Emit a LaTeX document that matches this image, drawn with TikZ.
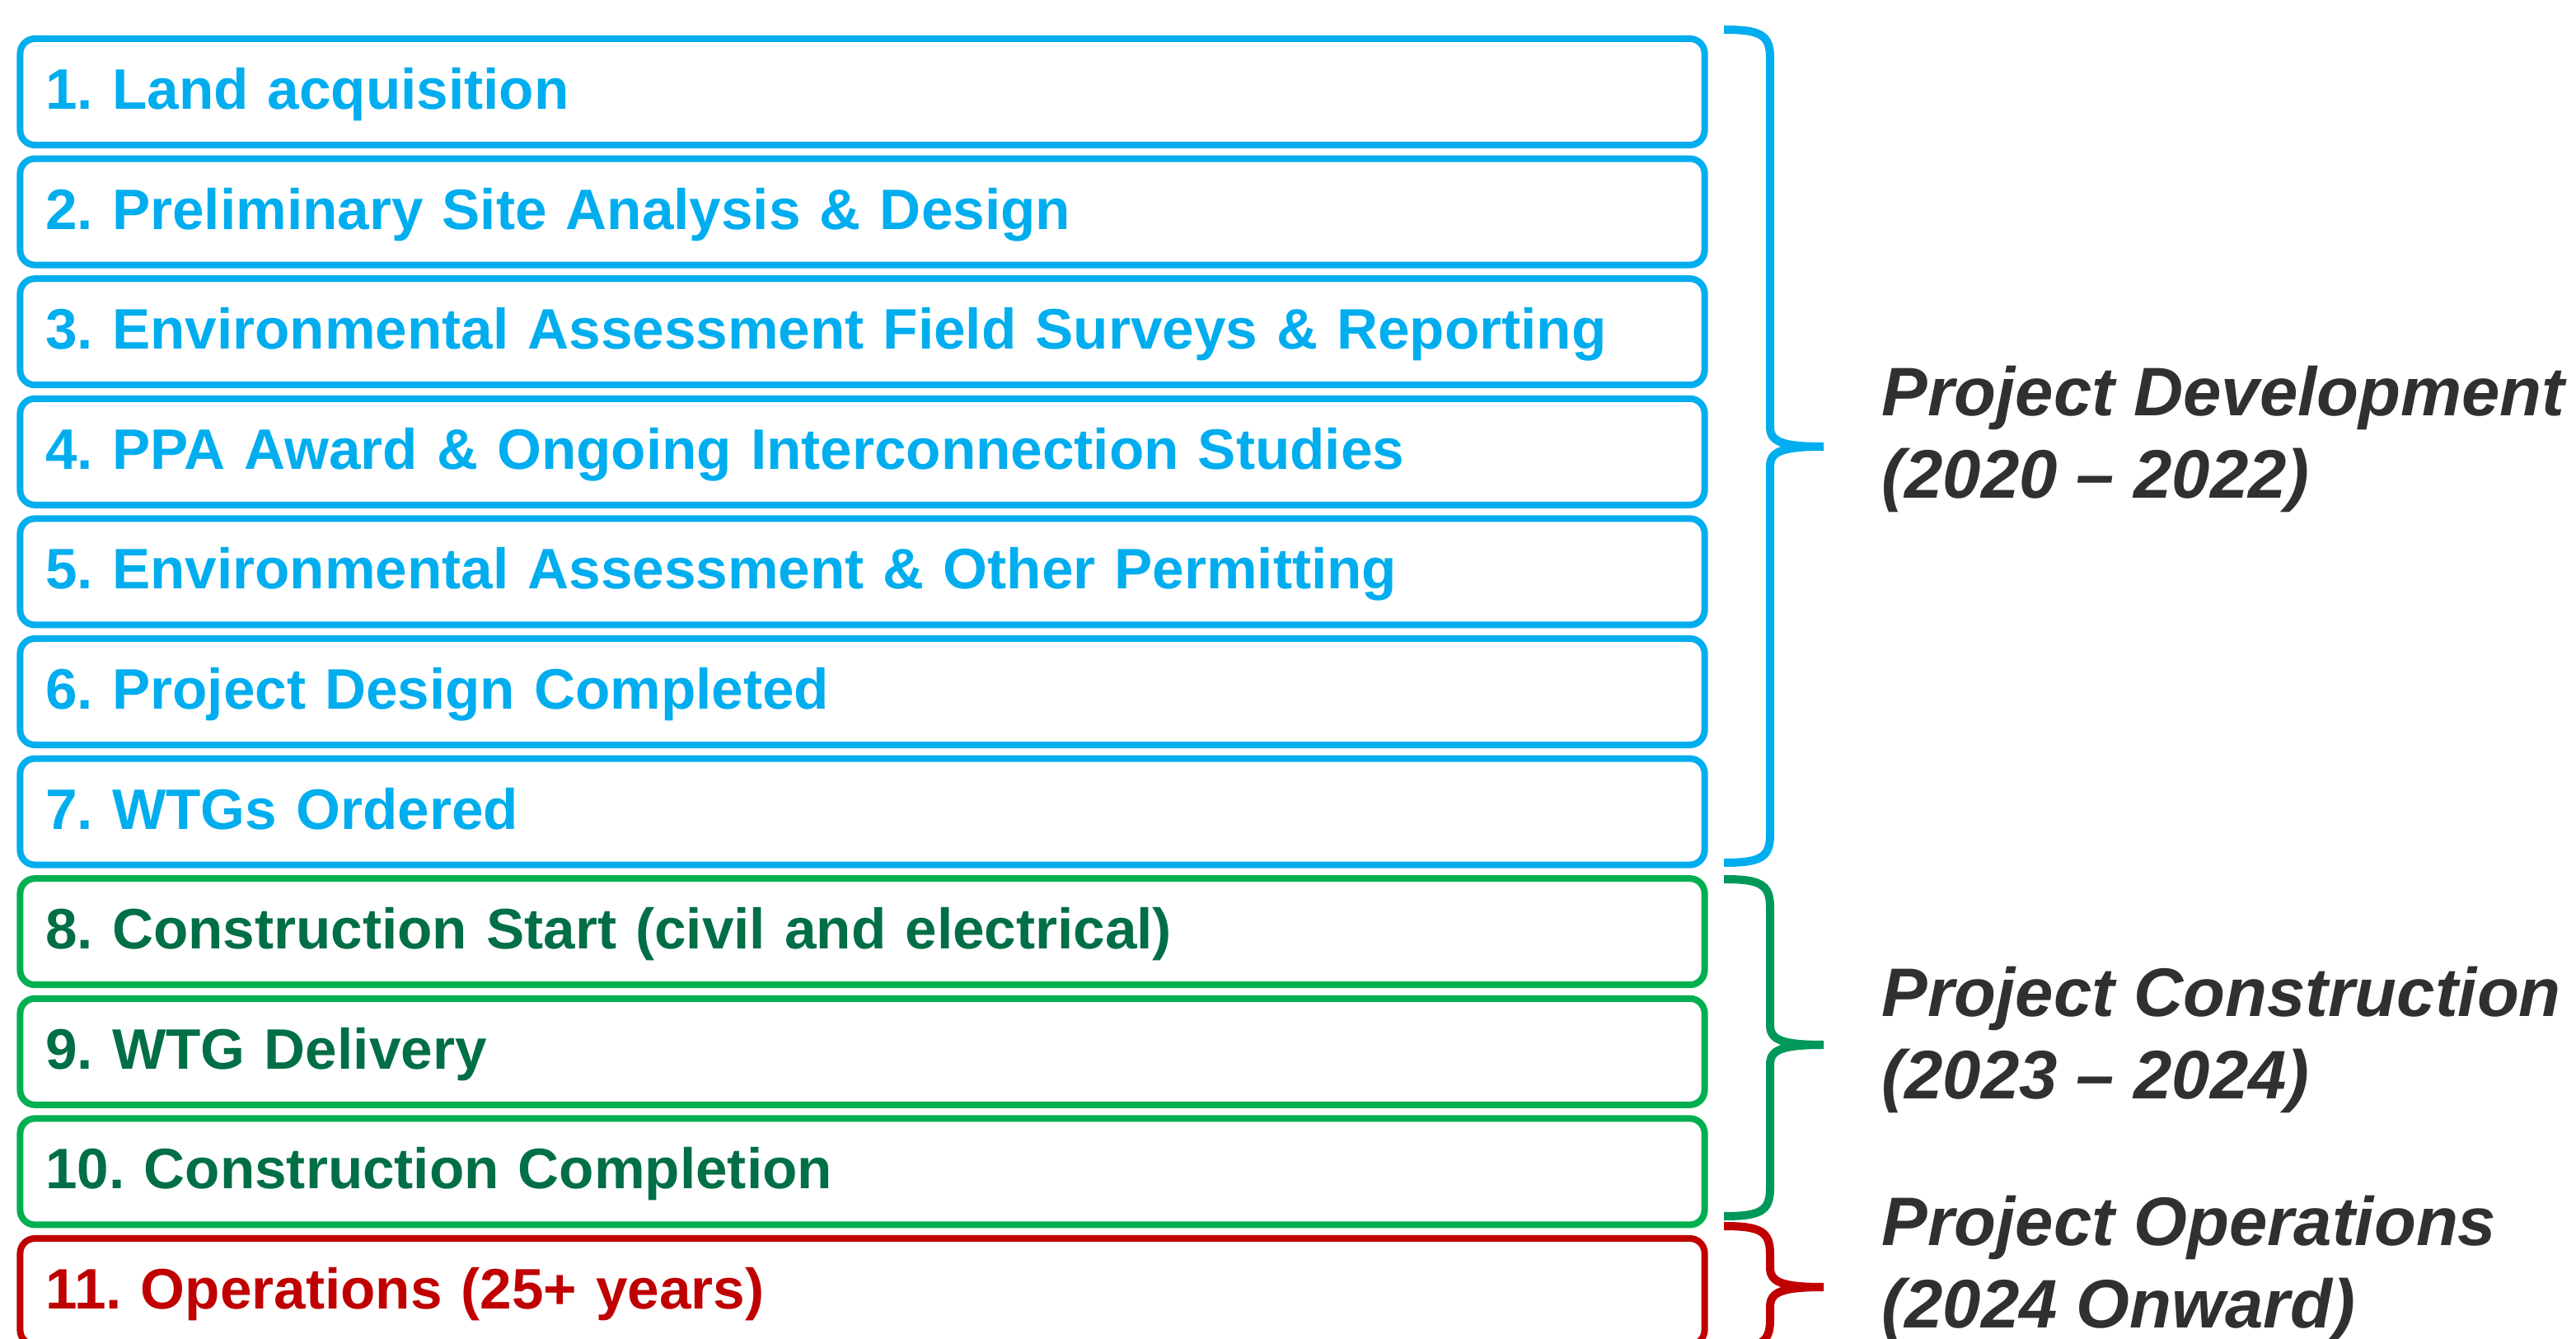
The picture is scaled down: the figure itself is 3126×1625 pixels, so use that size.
\documentclass[tikz,border=0pt]{standalone}
\usepackage{fontspec}
\setmainfont{Liberation Sans}
\frenchspacing
\definecolor{devblue}{HTML}{00ADEE}
\definecolor{boxgreen}{HTML}{00B050}
\definecolor{textgreen}{HTML}{006F45}
\definecolor{bracegreen}{HTML}{00985A}
\definecolor{opred}{HTML}{C00000}
\definecolor{labelgray}{HTML}{303030}
\tikzset{
  stepbox/.style={draw, line width=0.08cm, rounded corners=0.18cm,
    minimum width=20.43cm, minimum height=1.29cm, inner xsep=0.31cm, inner ysep=0pt,
    text width=19.81cm, align=left, text height=0.5cm, text depth=0.08cm,
    font=\bfseries\fontsize{19.7}{24}\selectfont},
  devbox/.style={stepbox, draw=devblue, text=devblue},
  conbox/.style={stepbox, draw=boxgreen, text=textgreen},
  opbox/.style={stepbox, draw=opred, text=opred},
  phaselabel/.style={anchor=west, align=left, text=labelgray, inner sep=0pt,
    font=\bfseries\itshape\fontsize{23.7}{28.45}\selectfont},
  bracestroke/.style={line width=0.1cm, line cap=butt}
}
\newcommand{\phasebrace}[4]{%
  \draw[bracestroke, color=#1]
    (2092,#2) .. controls (2136,#2) and (2148,#2+6) .. (2148,#2+34)
    -- (2148,#3-24) .. controls (2148,#3-6) and (2162,#3) .. (2213,#3)
    (2213,#3) .. controls (2162,#3) and (2148,#3+6) .. (2148,#3+24)
    -- (2148,#4-34) .. controls (2148,#4-6) and (2136,#4) .. (2092,#4);
}
\begin{document}
\begin{tikzpicture}[x=0.01cm, y=-0.01cm]
\useasboundingbox (0,0) rectangle (3126,1625);
\node[devbox] (s1) at (1046.5,111.5) {1. Land acquisition};
\node[devbox] (s2) at (1046.5,257.1) {2. Preliminary Site Analysis \& Design};
\node[devbox] (s3) at (1046.5,402.7) {3. Environmental Assessment Field Surveys \& Reporting};
\node[devbox] (s4) at (1046.5,548.3) {4. PPA Award \& Ongoing Interconnection Studies};
\node[devbox] (s5) at (1046.5,693.9) {5. Environmental Assessment \& Other Permitting};
\node[devbox] (s6) at (1046.5,839.5) {6. Project Design Completed};
\node[devbox] (s7) at (1046.5,985.1) {7. WTGs Ordered};
\node[conbox] (s8) at (1046.5,1130.7) {8. Construction Start (civil and electrical)};
\node[conbox] (s9) at (1046.5,1276.3) {9. WTG Delivery};
\node[conbox] (s10) at (1046.5,1421.9) {10. Construction Completion};
\node[opbox] (s11) at (1046.5,1567.5) {11. Operations (25+ years)};

\phasebrace{devblue}{36}{542}{1047}
\phasebrace{bracegreen}{1067}{1268}{1476}
\phasebrace{opred}{1488}{1562}{1636}

\node[phaselabel] (pdev) at (2283,533) {Project Development\\(2020 – 2022)};
\node[phaselabel] (pcon) at (2283,1262) {Project Construction\\(2023 – 2024)};
\node[phaselabel] (pop) at (2283,1540) {Project Operations\\(2024 Onward)};
\end{tikzpicture}
\end{document}
